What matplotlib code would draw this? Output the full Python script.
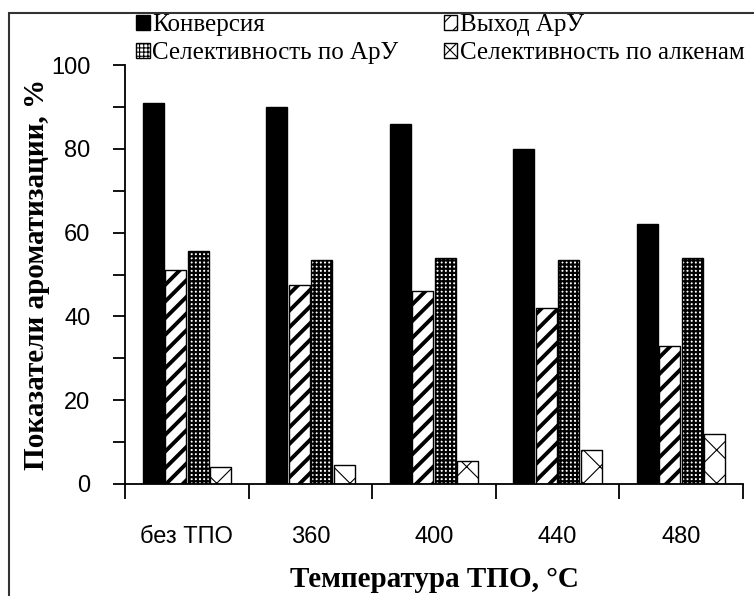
import matplotlib
matplotlib.use("Agg")
import matplotlib.pyplot as plt
import numpy as np
from matplotlib.patches import Rectangle
from matplotlib import font_manager

categories = ["без ТПО", "360", "400", "440", "480"]
conversion = [91, 90, 86, 80, 62]
yield_ary = [51, 47.5, 46, 42, 33]
select_ary = [55.5, 53.5, 54, 53.5, 54]
select_alk = [4, 4.5, 5.5, 8, 12]
series_names = ["Конверсия", "Выход АрУ", "Селективность по АрУ", "Селективность по алкенам"]

names = {f.name for f in font_manager.fontManager.ttflist}
tick_family = ["Liberation Sans Narrow", "DejaVu Sans"] if "Liberation Sans Narrow" in names else ["Liberation Sans", "DejaVu Sans"]
serif = ["Liberation Serif", "DejaVu Serif"]

W, H = 754, 596
fig = plt.figure(figsize=(W / 100, H / 100), dpi=100)
ax = fig.add_axes([125 / W, 1 - 484 / H, (743 - 125) / W, (484 - 65) / H])

x = np.arange(len(categories))
bw = 0.17
offs = np.array([-1.5, -0.5, 0.5, 1.5]) * (bw + 0.012)
styles = [
    dict(color="black", hatch=None, hlw=1.0),
    dict(color="white", hatch="//", hlw=2.8),
    dict(color="white", hatch="++++", hlw=1.6),
    dict(color="white", hatch="x", hlw=0.8),
]
data = [conversion, yield_ary, select_ary, select_alk]
handles = []
for vals, off, st, nm in zip(data, offs, styles, series_names):
    plt.rcParams["hatch.linewidth"] = st["hlw"]
    bars = ax.bar(x + off, vals, bw, color=st["color"], edgecolor="black",
                  linewidth=1.0, hatch=st["hatch"], label=nm)
    for p in bars:
        if hasattr(p, "set_hatch_linewidth"):
            p.set_hatch_linewidth(st["hlw"])
    handles.append(bars)

ax.set_xlim(-0.5, len(categories) - 0.5)
ax.set_ylim(0, 100)
ax.set_yticks(np.arange(0, 101, 20))
ax.set_yticks(np.arange(10, 100, 20), minor=True)
ax.set_xticks(np.arange(-0.5, len(categories), 1.0))
ax.set_xticklabels([])
ax.set_xticks(x, minor=True)
ax.set_xticklabels(categories, minor=True)
ax.tick_params(axis="x", which="major", direction="out", length=11, width=1.3)
ax.tick_params(axis="x", which="minor", length=0, pad=30)
ax.tick_params(axis="y", which="both", direction="out", length=9, width=1.3, pad=16)
for lab in ax.get_xticklabels(minor=True) + ax.get_yticklabels():
    lab.set_family(tick_family)
    lab.set_fontsize(17)
for s in ["top", "right"]:
    ax.spines[s].set_visible(False)
for s in ["left", "bottom"]:
    ax.spines[s].set_linewidth(1.3)

ax.set_xlabel("Температура ТПО, °С", family=serif, fontsize=21, fontweight="bold", labelpad=13)
ax.set_ylabel("Показатели ароматизации, %", family=serif, fontsize=21, fontweight="bold", labelpad=1)

order = [0, 2, 1, 3]
fig.legend([handles[i] for i in order], [series_names[i] for i in order],
           loc="upper left", bbox_to_anchor=(136 / W, 1 - 14 / H), ncol=2, frameon=False,
           prop={"family": serif, "size": 18}, handlelength=0.55, handleheight=0.55,
           handletextpad=0.1, columnspacing=1.8, labelspacing=0.25, borderaxespad=0,
           borderpad=0)

fig.patches.append(Rectangle((9 / W, -0.1), 1.2, 1.1 - 13 / H, transform=fig.transFigure,
                             fill=False, edgecolor="#333333", linewidth=1.5))
fig.savefig("out.png", dpi=100)
